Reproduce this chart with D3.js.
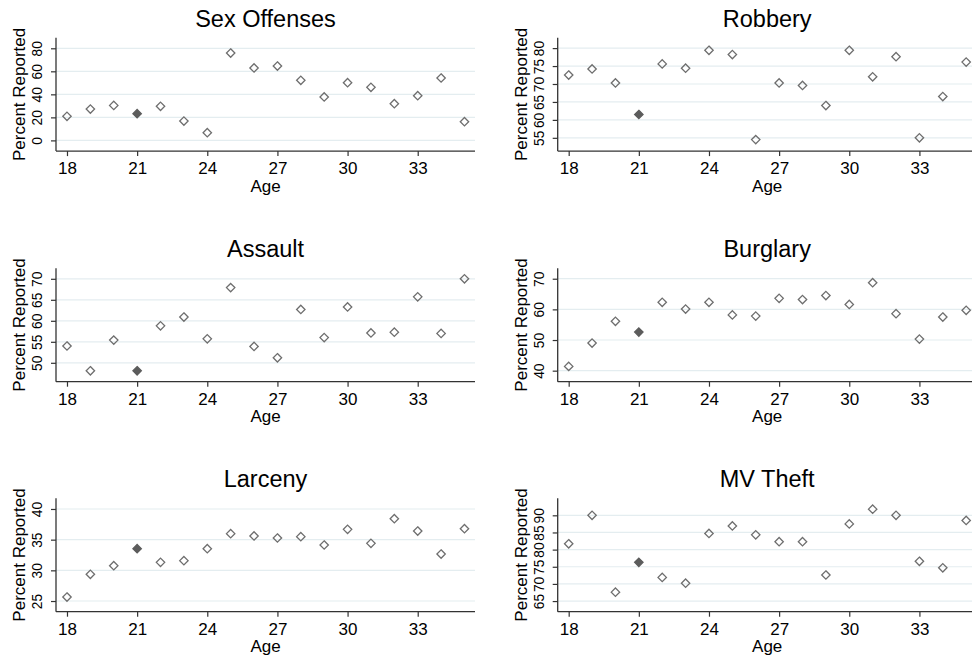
<!DOCTYPE html>
<html>
<head>
<meta charset="utf-8">
<script src="https://cdn.jsdelivr.net/npm/d3@7"></script>
<style>
  html, body { margin: 0; padding: 0; background: #fff; }
  svg { display: block; font-family: "Liberation Sans", Arial, Helvetica, sans-serif; }
</style>
</head>
<body>
<svg id="chart" width="972" height="659"></svg>
<script>
// Age of respondent (x) and percent of offenses reported (y), one series per crime type
const ages = [18, 19, 20, 21, 22, 23, 24, 25, 26, 27, 28, 29, 30, 31, 32, 33, 34, 35];
const highlightAge = 21;

const sexOffenses = [20.9, 27.2, 30.4, 23.2, 29.6, 16.8, 6.7, 75.9, 62.9, 64.6, 52.2, 37.7, 50.1, 46.1, 31.9, 38.8, 54.2, 16.2];
const robbery     = [72.5, 74.2, 70.3, 61.5, 75.6, 74.4, 79.4, 78.2, 54.5, 70.3, 69.6, 64.0, 79.4, 72.0, 77.6, 55.0, 66.5, 76.1];
const assault     = [54.0, 48.1, 55.4, 48.1, 58.8, 60.9, 55.7, 67.9, 53.9, 51.2, 62.7, 56.0, 63.3, 57.1, 57.3, 65.7, 57.0, 70.0];
const burglary    = [41.4, 49.0, 56.1, 52.6, 62.3, 60.1, 62.3, 58.2, 57.8, 63.6, 63.2, 64.5, 61.6, 68.7, 58.6, 50.3, 57.5, 59.7];
const larceny     = [25.65, 29.35, 30.76, 33.53, 31.30, 31.58, 33.53, 35.98, 35.60, 35.27, 35.49, 34.13, 36.68, 34.40, 38.42, 36.41, 32.66, 36.79];
const mvTheft     = [81.7, 90.0, 67.6, 76.3, 71.9, 70.2, 84.7, 86.9, 84.3, 82.3, 82.3, 72.6, 87.5, 91.8, 90.0, 76.6, 74.7, 88.5];

const xTicks = [18, 21, 24, 27, 30, 33];
const sexTicks      = [0, 20, 40, 60, 80];
const robberyTicks  = [55, 60, 65, 70, 75, 80];
const assaultTicks  = [50, 55, 60, 65, 70];
const burglaryTicks = [40, 50, 60, 70];
const larcenyTicks  = [25, 30, 35, 40];
const mvTicks       = [65, 70, 75, 80, 85, 90];

const titles = ["Sex Offenses", "Robbery", "Assault", "Burglary", "Larceny", "MV Theft"];

// y ranges with padding around the data
const yRanges = [[-9.3, 89.2], [51.3, 82.9], [45.5, 72.5], [36.4, 73.4], [23.26, 41.74], [61.9, 94.96]];
const xRange = [17.53, 35.45];

const panels = [
  { title: titles[0], values: sexOffenses, ticks: sexTicks,      yDomain: yRanges[0] },
  { title: titles[1], values: robbery,     ticks: robberyTicks,  yDomain: yRanges[1] },
  { title: titles[2], values: assault,     ticks: assaultTicks,  yDomain: yRanges[2] },
  { title: titles[3], values: burglary,    ticks: burglaryTicks, yDomain: yRanges[3] },
  { title: titles[4], values: larceny,     ticks: larcenyTicks,  yDomain: yRanges[4] },
  { title: titles[5], values: mvTheft,     ticks: mvTicks,       yDomain: yRanges[5] }
];

// layout of the 3x2 grid
const colX = [56, 557.7];
const rowY = [37.7, 268.3, 498.3];
const plotW = 419;
const plotH = 113.4;

const svg = d3.select("#chart");
svg.append("rect").attr("width", 972).attr("height", 659).attr("fill", "#fff");

const diamond = r => `M0,${-r}L${r},0L0,${r}L${-r},0Z`;

panels.forEach((p, i) => {
  const x0 = colX[i % 2];
  const y0 = rowY[Math.floor(i / 2)];
  const g = svg.append("g").attr("transform", `translate(${x0},${y0})`);

  const x = d3.scaleLinear().domain(xRange).range([0, plotW]);
  const y = d3.scaleLinear().domain(p.yDomain).range([plotH, 0]);

  // gridlines
  g.append("g").selectAll("line").data(p.ticks).join("line")
    .attr("x1", 0).attr("x2", plotW)
    .attr("y1", d => y(d)).attr("y2", d => y(d))
    .attr("stroke", "#e4edf0").attr("stroke-width", 1.2);

  // y axis
  const yAxis = g.append("g")
    .call(d3.axisLeft(y).tickValues(p.ticks).tickSize(5).tickSizeOuter(0).tickFormat(d3.format("d")));
  yAxis.select(".domain").attr("stroke", "#333").attr("stroke-width", 1.3)
    .attr("d", `M0,0V${plotH}`);
  yAxis.selectAll(".tick line").attr("stroke", "#333").attr("stroke-width", 1.2);
  yAxis.selectAll(".tick text")
    .attr("x", null).attr("dy", null)
    .attr("transform", "translate(-14,0) rotate(-90)")
    .attr("text-anchor", "middle")
    .attr("font-size", 13.8).attr("fill", "#000")
    .attr("font-family", "Liberation Sans, Arial, sans-serif");

  // x axis
  const xAxis = g.append("g").attr("transform", `translate(0,${plotH})`)
    .call(d3.axisBottom(x).tickValues(xTicks).tickSize(5).tickSizeOuter(0).tickFormat(d3.format("d")));
  xAxis.select(".domain").attr("stroke", "#333").attr("stroke-width", 1.3)
    .attr("d", `M0,0H${plotW}`);
  xAxis.selectAll(".tick line").attr("stroke", "#333").attr("stroke-width", 1.2);
  xAxis.selectAll(".tick text")
    .attr("y", 23).attr("dy", null)
    .attr("font-size", 17).attr("fill", "#000")
    .attr("font-family", "Liberation Sans, Arial, sans-serif");

  // axis titles
  g.append("text")
    .attr("x", plotW / 2).attr("y", plotH + 40.7)
    .attr("text-anchor", "middle").attr("font-size", 17)
    .text("Age");
  g.append("text")
    .attr("transform", `translate(-31,${plotH / 2}) rotate(-90)`)
    .attr("text-anchor", "middle").attr("font-size", 17)
    .text("Percent Reported");

  // panel title
  g.append("text")
    .attr("x", plotW / 2).attr("y", -11)
    .attr("text-anchor", "middle").attr("font-size", 23.5)
    .text(p.title);

  // markers
  const pts = ages.map((a, k) => ({ age: a, v: p.values[k] }));
  g.append("g").selectAll("path").data(pts).join("path")
    .attr("transform", d => `translate(${x(d.age)},${y(d.v)})`)
    .attr("d", diamond(4.2))
    .attr("fill", d => d.age === highlightAge ? "#5c5c5c" : "none")
    .attr("stroke", d => d.age === highlightAge ? "#5c5c5c" : "#6e6e6e")
    .attr("stroke-width", 1.3);
});
</script>
</body>
</html>
